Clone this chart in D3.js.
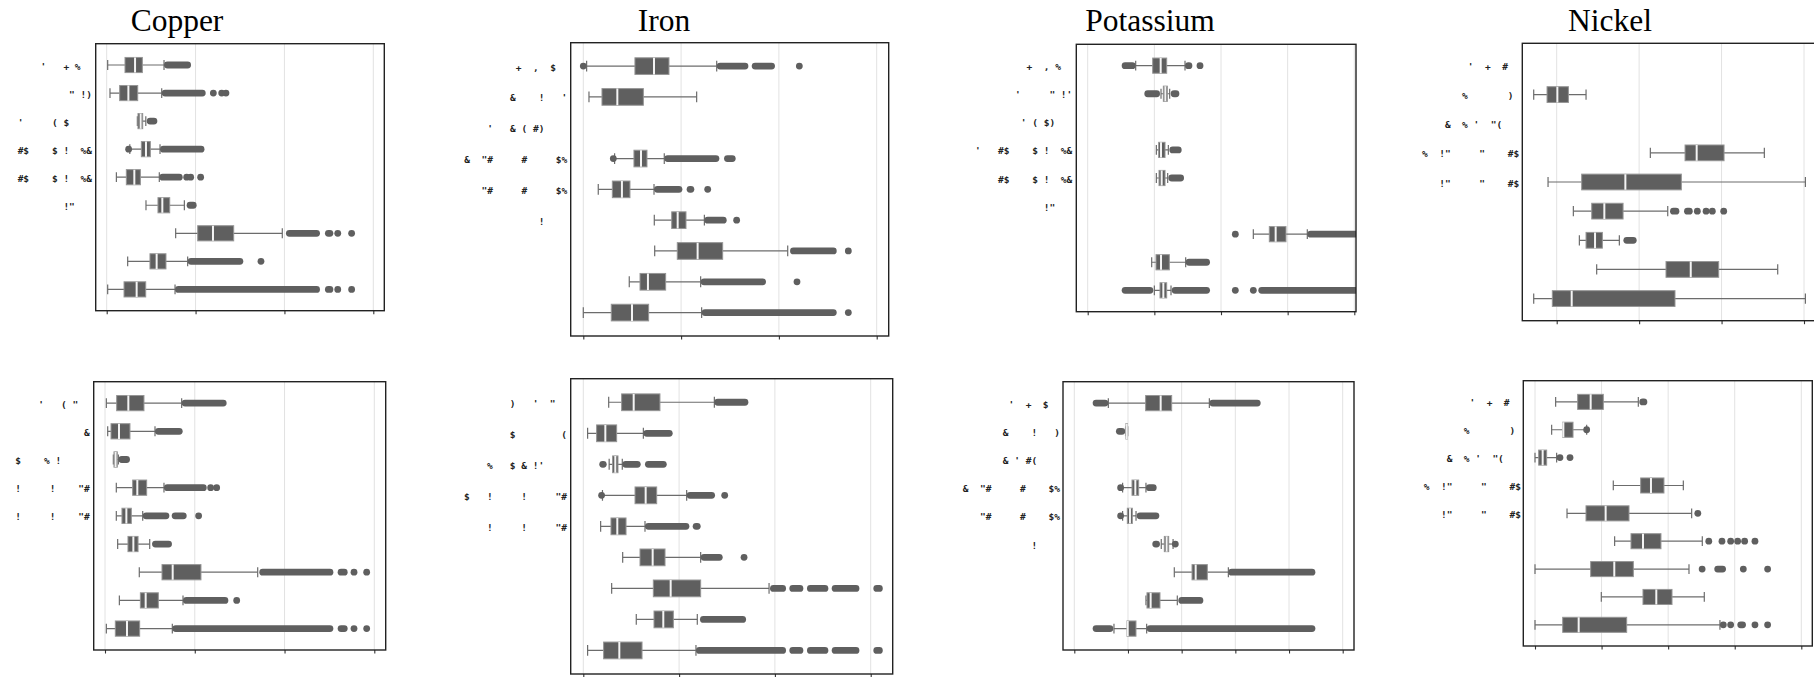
<!DOCTYPE html>
<html>
<head>
<meta charset="utf-8">
<script src="https://cdn.jsdelivr.net/npm/d3@7"></script>
<style>
    body { margin: 0; background: #fff; }
</style>
</head>
<body>
<svg id="chart" width="1814" height="677"></svg>
<script>
// x values are in tick units (the original shows no tick labels)
// rows with a lost font keep their visible glyphs, missing ones are spaces
var elements = ["Copper", "Iron", "Potassium", "Nickel"];

var copperTopLabels = ["'   + %  ", "\" !)", "'     ( $    ", "#$    $ !  %&", "#$    $ !  %&", "!\"   ", "", "", ""];
var ironTopLabels = ["+  ,  $  ", "&    !   '", "'   & ( #)    ", "&  \"#     #     $%", "\"#     #     $%", "!    ", "", "", ""];
var potassiumTopLabels = ["+  , %  ", "'     \" !'", "' ( $)   ", "'   #$    $ !  %&", "#$    $ !  %&", "!\"   ", "", "", ""];
var nickelTopLabels = ["'  +  #  ", "%       ) ", "&  % '  \"(   ", "%  !\"     \"    #$", "!\"     \"    #$", "", "", "", ""];
var copperBottomLabels = ["'   ( \"  ", "&", "$    % !     ", "!     !    \"#", "!     !    \"#", "", "", "", ""];
var ironBottomLabels = [")   '  \"  ", "$        (", "%   $ & !'    ", "$   !     !     \"#", "!     !     \"#", "", "", "", ""];
var potassiumBottomLabels = ["'  +  $  ", "&    !   )", "& ' #(    ", "&  \"#     #    $%", "\"#     #    $%", "!    ", "", "", ""];
var nickelBottomLabels = ["'  +  #  ", "%       ) ", "&  % '  \"(   ", "%  !\"     \"    #$", "!\"     \"    #$", "", "", "", ""];

// [whisker low, q1, median, q3, whisker high], null = empty row
var copperTopBoxes = [
    [0.011, 0.206, 0.319, 0.401, 0.645],
    [0.037, 0.146, 0.244, 0.349, 0.619],
    [0.345, 0.352, 0.382, 0.405, 0.44],
    [0.26, 0.39, 0.442, 0.491, 0.6],
    [0.109, 0.221, 0.311, 0.379, 0.592],
    [0.442, 0.577, 0.626, 0.709, 0.874],
    [0.776, 1.024, 1.196, 1.429, 1.976],
    [0.236, 0.487, 0.562, 0.667, 0.911],
    [0.011, 0.195, 0.337, 0.439, 0.769]
];
// outliers: single values, or [from, to] runs of overlapping points
var copperTopOutliers = [
    [[0.645, 0.949]],
    [[0.619, 1.114], 1.2, 1.294, 1.342],
    [[0.45, 0.57]],
    [0.247, [0.6, 1.1]],
    [[0.592, 0.855], 0.9, 0.945, 1.057],
    [[0.9, 1.012]],
    [[2.017, 2.4], [2.456, 2.55], 2.6, 2.756],
    [[0.911, 1.537], 1.736],
    [[0.769, 2.4], [2.456, 2.55], 2.6, 2.756]
];

var ironTopBoxes = [
    [0.034, 0.528, 0.723, 0.876, 1.364],
    [0.058, 0.191, 0.348, 0.614, 1.159],
    null,
    [0.32, 0.518, 0.59, 0.651, 0.828],
    [0.153, 0.297, 0.395, 0.477, 0.723],
    [0.726, 0.904, 0.965, 1.05, 1.238],
    [0.73, 0.961, 1.169, 1.425, 2.09],
    [0.47, 0.58, 0.661, 0.842, 1.2],
    [0.0, 0.286, 0.498, 0.668, 1.21]
];
var ironTopOutliers = [
    [0.0, [1.364, 1.688], [1.722, 1.96], 2.209],
    [],
    [],
    [0.307, [0.828, 1.391], [1.439, 1.558]],
    [[0.723, 1.013], [1.057, 1.135], 1.272],
    [[1.238, 1.466], 1.568],
    [[2.114, 2.591], 2.71],
    [[1.2, 1.868], 2.185],
    [[1.21, 2.591], 2.71]
];

var potassiumTopBoxes = [
    [0.72, 0.975, 1.095, 1.185, 1.46],
    [1.1, 1.135, 1.165, 1.195, 1.23],
    null,
    [1.03, 1.065, 1.1, 1.16, 1.21],
    [1.03, 1.07, 1.11, 1.16, 1.2],
    null,
    [2.485, 2.725, 2.82, 2.975, 3.295],
    [0.96, 1.025, 1.1, 1.225, 1.47],
    [1.0, 1.085, 1.135, 1.185, 1.25]
];
var potassiumTopOutliers = [
    [[0.51, 0.72], [1.46, 1.57], 1.685],
    [[0.85, 1.085], [1.245, 1.375]],
    [],
    [[1.225, 1.41]],
    [[1.21, 1.445]],
    [],
    [2.215, [3.295, 4.2]],
    [[1.47, 1.835]],
    [[0.51, 0.985], [1.26, 1.835], 2.215, 2.485, [2.56, 4.2]]
];

var nickelTopBoxes = [
    null,
    [-0.279, -0.117, 0.008, 0.142, 0.356],
    null,
    [1.136, 1.557, 1.698, 2.03, 2.519],
    [-0.105, 0.303, 0.833, 1.512, 3.017],
    [0.202, 0.425, 0.578, 0.805, 1.347],
    [0.275, 0.356, 0.465, 0.554, 0.76],
    [0.485, 1.326, 1.626, 1.965, 2.681],
    [-0.279, -0.053, 0.182, 1.435, 3.017]
];
var nickelTopOutliers = [
    [], [], [], [], [],
    [[1.375, 1.488], [1.545, 1.65], 1.706, 1.812, 1.888, 2.026],
    [[0.809, 0.97]],
    [],
    []
];

var copperBottomBoxes = [
    [0.015, 0.13, 0.26, 0.434, 0.854],
    [0.03, 0.067, 0.156, 0.278, 0.557],
    [0.093, 0.1, 0.118, 0.137, 0.149],
    [0.126, 0.308, 0.36, 0.464, 0.657],
    [0.126, 0.189, 0.238, 0.293, 0.42],
    [0.141, 0.256, 0.316, 0.368, 0.498],
    [0.382, 0.635, 0.754, 1.069, 1.701],
    [0.16, 0.394, 0.453, 0.594, 0.869],
    [0.015, 0.115, 0.245, 0.386, 0.75]
];
var copperBottomOutliers = [
    [[0.854, 1.355]],
    [[0.557, 0.865]],
    [[0.149, 0.278]],
    [[0.657, 1.133], 1.177, 1.244],
    [[0.42, 0.717], [0.743, 0.91], 1.043],
    [[0.524, 0.746]],
    [[1.719, 2.544], [2.592, 2.703], 2.774, 2.915],
    [[0.869, 1.374], 1.467],
    [[0.75, 2.544], [2.592, 2.703], 2.774, 2.915]
];

var ironBottomBoxes = [
    [0.265, 0.4, 0.526, 0.8, 1.368],
    [0.045, 0.139, 0.23, 0.348, 0.627],
    [0.27, 0.306, 0.334, 0.362, 0.407],
    [0.2, 0.54, 0.651, 0.766, 1.079],
    [0.181, 0.289, 0.355, 0.446, 0.644],
    [0.411, 0.592, 0.724, 0.853, 1.225],
    [0.296, 0.731, 0.912, 1.225, 1.939],
    [0.553, 0.738, 0.835, 0.94, 1.19],
    [0.045, 0.212, 0.376, 0.613, 1.176]
];
var ironBottomOutliers = [
    [[1.368, 1.723]],
    [[0.627, 0.933]],
    [[0.167, 0.244], [0.407, 0.599], [0.644, 0.871]],
    [0.191, [1.079, 1.375], 1.476],
    [[0.644, 1.107], [1.142, 1.225]],
    [[1.225, 1.455], 1.678],
    [[1.949, 2.116], [2.151, 2.297], [2.335, 2.558], [2.593, 2.882], [3.028, 3.126]],
    [[1.218, 1.699]],
    [[1.176, 2.116], [2.151, 2.297], [2.335, 2.558], [2.593, 2.882], [3.028, 3.126]]
];

var potassiumBottomBoxes = [
    [0.634, 1.329, 1.609, 1.814, 2.516],
    [0.955, 0.96, 0.975, 0.99, 0.995],
    null,
    [0.9, 1.075, 1.137, 1.199, 1.335],
    [0.9, 0.988, 1.037, 1.081, 1.15],
    [1.62, 1.677, 1.72, 1.758, 1.84],
    [1.863, 2.193, 2.261, 2.478, 2.87],
    [1.335, 1.354, 1.422, 1.596, 1.919],
    [0.739, 0.981, 0.995, 1.149, 1.348]
];
var potassiumBottomOutliers = [
    [[0.342, 0.634], [2.516, 3.472]],
    [[0.776, 0.95]],
    [],
    [0.863, [1.335, 1.534]],
    [0.863, [1.161, 1.584]],
    [[1.453, 1.596], 1.882],
    [[2.87, 4.491]],
    [[1.938, 2.404]],
    [[0.342, 0.727], [1.348, 4.491]]
];

var nickelBottomBoxes = [
    [0.31, 0.641, 0.836, 1.026, 1.552],
    [0.25, 0.416, 0.426, 0.571, 0.776],
    [0.0, 0.055, 0.115, 0.175, 0.325],
    [1.176, 1.587, 1.742, 1.937, 2.228],
    [0.481, 0.766, 1.061, 1.412, 2.353],
    [1.196, 1.442, 1.622, 1.892, 2.513],
    [0.0, 0.836, 1.191, 1.477, 2.313],
    [0.996, 1.622, 1.822, 2.058, 2.543],
    [0.0, 0.416, 0.656, 1.377, 2.778]
];
var nickelBottomOutliers = [
    [[1.567, 1.687]],
    [0.776],
    [0.375, [0.476, 0.576]],
    [],
    [[2.413, 2.478]],
    [[2.563, 2.658], [2.758, 2.859], 2.939, 3.044, 3.149, 3.304],
    [[2.468, 2.553], [2.693, 2.869], [3.089, 3.169], 3.494],
    [],
    [[2.778, 2.879], 2.939, [3.039, 3.169], 3.304, 3.494]
];

var ticks3 = [0, 1, 2, 3],
    ticks4 = [0, 1, 2, 3, 4],
    ticks5 = [0, 1, 2, 3, 4, 5];

// panel layout: frame [left, right, top, bottom], pixel span of first..last tick
var panels = [
    {labels: copperTopLabels, boxes: copperTopBoxes, outliers: copperTopOutliers, ticks: ticks3,
        frame: [95.7, 384.3, 43.7, 310.7], tickPx: [106.7, 373.3], labelRight: 92},
    {labels: ironTopLabels, boxes: ironTopBoxes, outliers: ironTopOutliers, ticks: ticks3,
        frame: [570.7, 888.7, 42.7, 336], tickPx: [583.3, 876.7], labelRight: 567.3},
    {labels: potassiumTopLabels, boxes: potassiumTopBoxes, outliers: potassiumTopOutliers, ticks: ticks4,
        frame: [1076.3, 1356, 44.3, 311.7], tickPx: [1087.7, 1354.3], labelRight: 1072.3},
    {labels: nickelTopLabels, boxes: nickelTopBoxes, outliers: nickelTopOutliers, ticks: ticks3,
        frame: [1522.3, 1818, 43.3, 320.7], tickPx: [1556.7, 1804], labelRight: 1519.3},
    {labels: copperBottomLabels, boxes: copperBottomBoxes, outliers: copperBottomOutliers, ticks: ticks3,
        frame: [93.7, 385.7, 381.7, 650], tickPx: [105, 374.3], labelRight: 89.7},
    {labels: ironBottomLabels, boxes: ironBottomBoxes, outliers: ironBottomOutliers, ticks: ticks3,
        frame: [570.7, 892.7, 378.7, 674], tickPx: [583.3, 870.7], labelRight: 567},
    {labels: potassiumBottomLabels, boxes: potassiumBottomBoxes, outliers: potassiumBottomOutliers, ticks: ticks5,
        frame: [1063, 1354, 381.7, 650], tickPx: [1074.3, 1342.7], labelRight: 1060},
    {labels: nickelBottomLabels, boxes: nickelBottomBoxes, outliers: nickelBottomOutliers, ticks: ticks4,
        frame: [1523.3, 1812.3, 380.7, 646], tickPx: [1535, 1801.3], labelRight: 1521}
];
var titleX = [177, 664, 1150, 1610];

var boxColor = "#5f5f5f",
    whiskerColor = "#6c6c6c",
    dotR = 3.4,
    labelSize = 9.5,
    charW = labelSize * 0.602;

var svg = d3.select("#chart");

// column titles
svg.selectAll(".title")
    .data(elements)
    .join("text")
    .attr("class", "title")
    .attr("x", function (d, i) { return titleX[i]; })
    .attr("y", 30.5)
    .attr("text-anchor", "middle")
    .style("font-family", "'Liberation Serif', 'Times New Roman', serif")
    .style("font-size", "31.5px")
    .style("fill", "#000")
    .text(function (d) { return d; });

panels.forEach(function (p, pi) {
    var f = p.frame;
    var x = d3.scaleLinear()
        .domain([p.ticks[0], p.ticks[p.ticks.length - 1]])
        .range(p.tickPx);
    var y = d3.scalePoint()
        .domain(d3.range(p.boxes.length))
        .range([f[2], f[3]])
        .padding(0.76);
    var boxH = y.step() * 0.54,
        capH = boxH * 0.65;

    var g = svg.append("g");

    g.append("clipPath")
        .attr("id", "clip" + pi)
        .append("rect")
        .attr("x", f[0]).attr("y", f[2])
        .attr("width", f[1] - f[0]).attr("height", f[3] - f[2]);

    // gridlines
    g.append("g")
        .selectAll("line")
        .data(p.ticks)
        .join("line")
        .attr("x1", function (d) { return x(d); })
        .attr("x2", function (d) { return x(d); })
        .attr("y1", f[2]).attr("y2", f[3])
        .style("stroke", "#e2e2e2")
        .style("stroke-width", 1);

    // tick marks only
    g.append("g")
        .attr("transform", "translate(0," + f[3] + ")")
        .call(d3.axisBottom(x).tickValues(p.ticks).tickSize(3.5).tickFormat(""))
        .call(function (a) { a.select(".domain").remove(); })
        .selectAll("line")
        .style("stroke", "#333")
        .style("stroke-width", 1.1);

    var plot = g.append("g").attr("clip-path", "url(#clip" + pi + ")");

    var rows = p.boxes.map(function (b, i) {
        return {i: i, b: b, out: p.outliers[i]};
    });

    // whiskers and caps
    rows.forEach(function (r) {
        if (!r.b) return;
        var cy = y(r.i), b = r.b;
        plot.append("line")
            .attr("x1", x(b[0])).attr("x2", x(b[4]))
            .attr("y1", cy).attr("y2", cy)
            .style("stroke", whiskerColor).style("stroke-width", 1.2);
        [b[0], b[4]].forEach(function (v) {
            plot.append("line")
                .attr("x1", x(v)).attr("x2", x(v))
                .attr("y1", cy - capH / 2).attr("y2", cy + capH / 2)
                .style("stroke", whiskerColor).style("stroke-width", 1.2);
        });
    });

    // outliers: runs of overlapping points drawn as round-capped bars
    rows.forEach(function (r) {
        var cy = y(r.i);
        (r.out || []).forEach(function (o) {
            if (Array.isArray(o)) {
                var a = x(o[0]) + dotR, b = x(o[1]) - dotR;
                if (b < a) { a = b = (a + b) / 2; }
                plot.append("line")
                    .attr("x1", a).attr("x2", b)
                    .attr("y1", cy).attr("y2", cy)
                    .style("stroke", boxColor)
                    .style("stroke-width", dotR * 2)
                    .style("stroke-linecap", "round");
            } else {
                plot.append("circle")
                    .attr("cx", x(o)).attr("cy", cy).attr("r", dotR)
                    .style("fill", boxColor);
            }
        });
    });

    // boxes and medians
    var boxRows = rows.filter(function (r) { return r.b; });
    plot.selectAll(".box")
        .data(boxRows)
        .join("rect")
        .attr("class", "box")
        .attr("x", function (r) { return x(r.b[1]); })
        .attr("width", function (r) { return Math.max(0.5, x(r.b[3]) - x(r.b[1])); })
        .attr("y", function (r) { return y(r.i) - boxH / 2; })
        .attr("height", boxH)
        .style("fill", boxColor)
        .style("stroke", "#959595")
        .style("stroke-width", 1);
    plot.selectAll(".median")
        .data(boxRows)
        .join("line")
        .attr("class", "median")
        .attr("x1", function (r) { return x(r.b[2]); })
        .attr("x2", function (r) { return x(r.b[2]); })
        .attr("y1", function (r) { return y(r.i) - boxH / 2; })
        .attr("y2", function (r) { return y(r.i) + boxH / 2; })
        .style("stroke", "#f4f4f4")
        .style("stroke-width", 2);

    // frame
    g.append("rect")
        .attr("x", f[0]).attr("y", f[2])
        .attr("width", f[1] - f[0]).attr("height", f[3] - f[2])
        .style("fill", "none")
        .style("stroke", "#222")
        .style("stroke-width", 1.4);

    // category labels
    g.append("g")
        .selectAll("text")
        .data(p.labels)
        .join("text")
        .attr("xml:space", "preserve")
        .attr("x", function (d) { return p.labelRight - d.length * charW; })
        .attr("y", function (d, i) { return y(i) + 1; })
        .attr("dominant-baseline", "central")
        .style("white-space", "pre")
        .style("font-family", "'DejaVu Sans Mono', monospace")
        .style("font-weight", "bold")
        .style("font-size", labelSize + "px")
        .style("fill", "#222")
        .text(function (d) { return d; });
});
</script>
</body>
</html>
